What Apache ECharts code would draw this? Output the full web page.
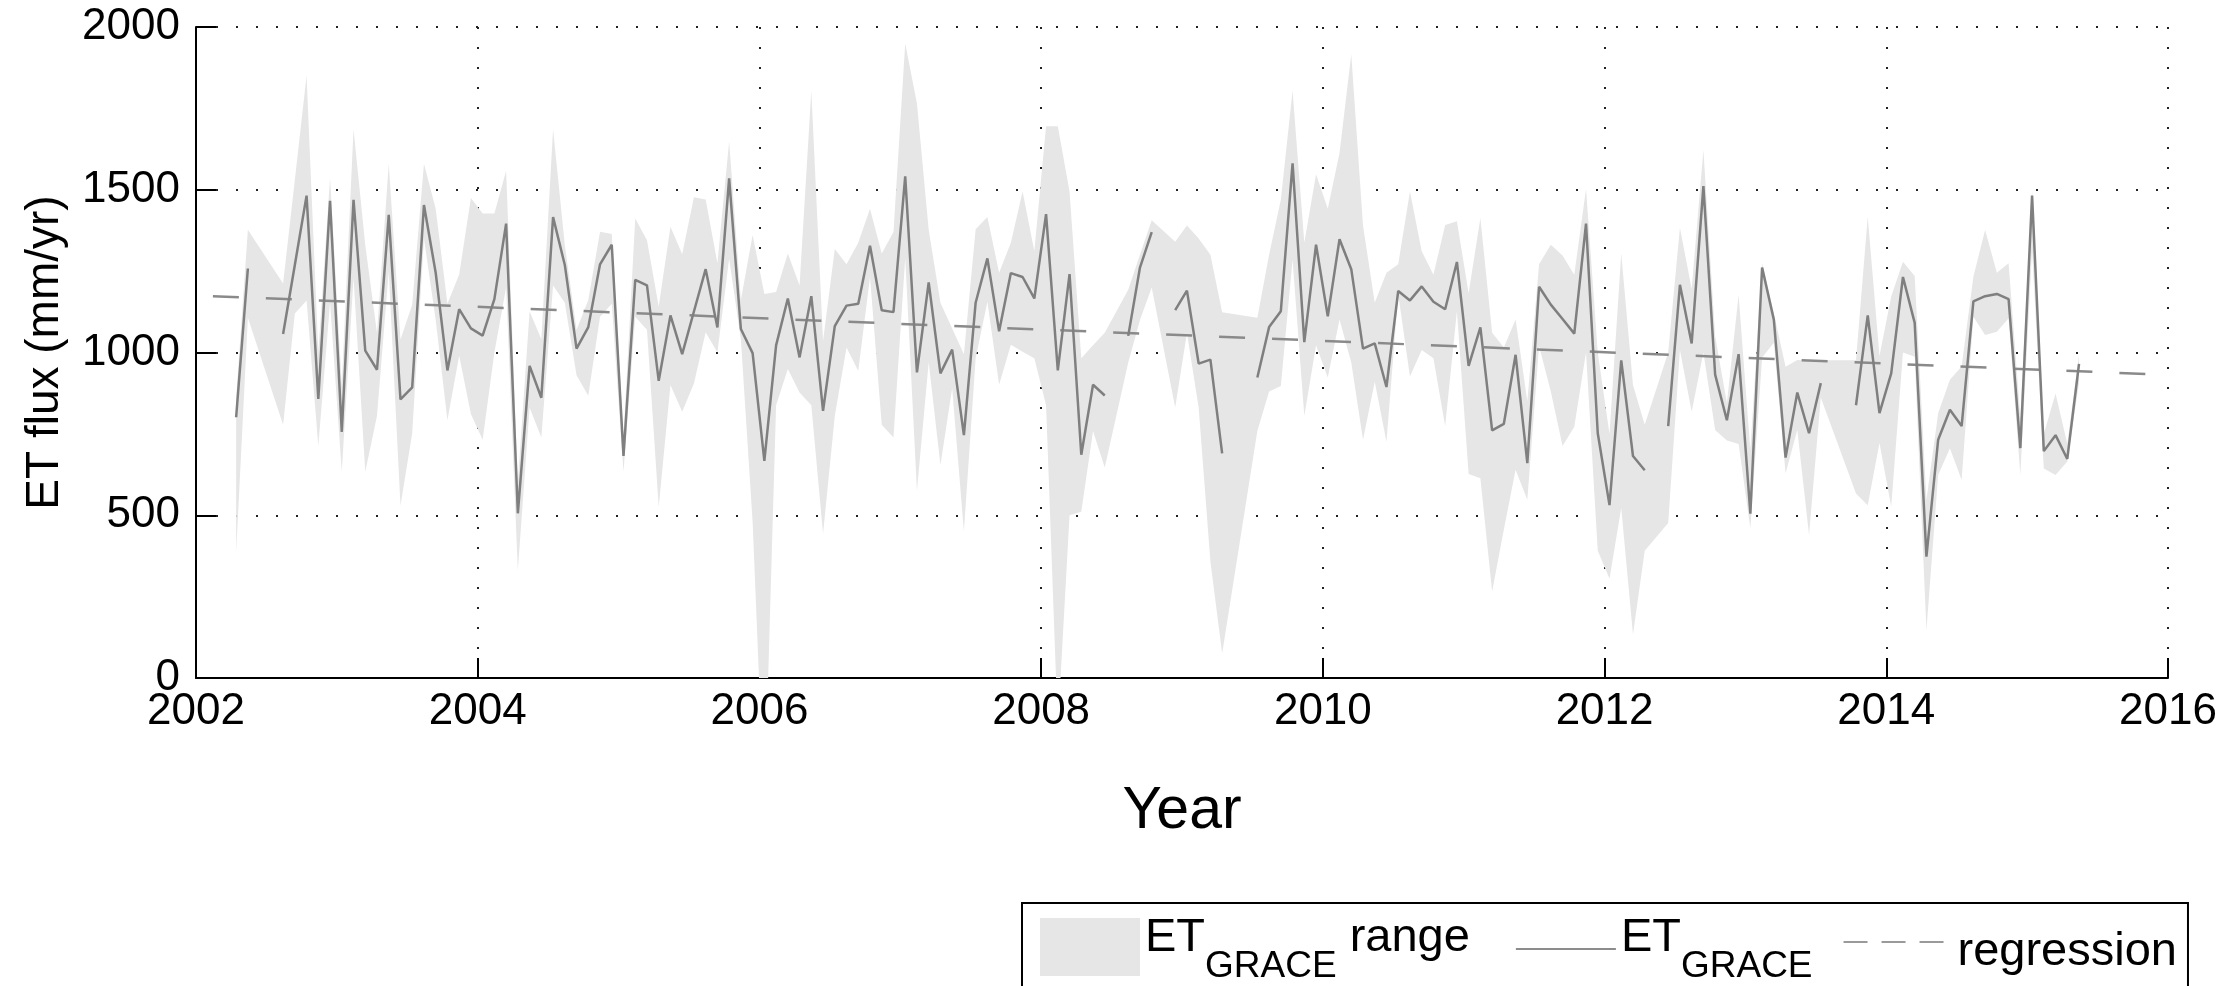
<!DOCTYPE html>
<html><head><meta charset="utf-8">
<script src="https://cdn.jsdelivr.net/npm/echarts@6/dist/echarts.min.js"></script>
<style>html,body{margin:0;padding:0;background:#fff}#c{width:2238px;height:986px}</style>
</head><body><div id="c"></div>
<script>
// Monthly series, starting April 2002 (null = missing month)
const startYear = 2002;
const startMonth = 4;
const etValues = [
  801, 1258, null, null, 1057, 1269, 1482, 857, 1466,
  756, 1469, 1006, 947, 1423, 856, 893, 1453, 1245, 945, 1133, 1074,
  1052, 1164, 1396, 506, 959, 861, 1416, 1269, 1012, 1078, 1271, 1331,
  682, 1223, 1206, 913, 1114, 995, 1126, 1256, 1077, 1535, 1072, 998,
  667, 1022, 1166, 985, 1173, 821, 1081, 1144, 1150, 1328, 1130, 1124,
  1541, 939, 1215, 936, 1009, 746, 1153, 1289, 1065, 1244, 1232, 1166,
  1425, 945, 1241, 686, 901, 868, null, 1051, 1261, 1370, null, 1130,
  1190, 966, 978, 690, null, null, 923, 1078, 1127, 1581, 1032, 1331,
  1111, 1348, 1256, 1012, 1028, 894, 1189, 1160, 1203, 1156, 1133, 1278,
  959, 1077, 761, 781, 993, 660, 1202, 1147, 1103, 1058, 1396, 752,
  531, 976, 682, 638, null, 774, 1208, 1028, 1511, 932, 792, 995,
  505, 1261, 1101, 677, 877, 752, 906, null, null, 838, 1114, 814,
  936, 1232, 1091, 373, 732, 824, 774, 1157, 1173, 1180, 1164, 706,
  1482, 697, 746, 673, 965
];
const etLow = [
  384, 1107, null, null, 778, 1120, 1160, 713, 1153,
  634, 1230, 634, 806, 1250, 529, 752, 1350, 1100, 792, 990, 811,
  732, 1000, 1200, 331, 831, 739, 1206, 1153, 930, 867, 1110, 1150,
  634, 1110, 1070, 525, 900, 818, 905, 1062, 1000, 1288, 1040, 480,
  -400, 838, 949, 877, 838, 443, 805, 1015, 943, 1232, 778, 739,
  1290, 575, 970, 654, 890, 450, 982, 1156, 901, 1024, 1002, 982,
  838, -150, 500, 511, 759, 647, null, 969, 1100, 1200, null, 831,
  1060, 830, 358, 75, null, null, 759, 880, 897, 1285, 805, 1022,
  923, 1101, 969, 732, 910, 726, 1179, 926, 1008, 982, 774, 1127,
  627, 614, 266, 456, 640, 548, 1020, 880, 713, 772, 1000, 391,
  305, 522, 134, 391, null, 476, 1008, 818, 1000, 762, 730, 719,
  460, 985, 1030, 629, 762, 439, 862, null, null, 567, 531, 722,
  526, 1000, 987, 147, 624, 706, 608, 1110, 1054, 1064, 1105, 624,
  1315, 644, 624, 665, 906
];
const etHigh = [
  860, 1377, null, null, 1212, 1530, 1850, 1000, 1535,
  900, 1686, 1330, 1060, 1580, 1040, 1147, 1580, 1442, 1150, 1240, 1475,
  1427, 1427, 1558, 600, 1127, 1041, 1686, 1330, 1069, 1161, 1371, 1364,
  741, 1412, 1345, 1141, 1386, 1302, 1477, 1470, 1274, 1648, 1161, 1361,
  1180, 1186, 1304, 1206, 1804, 1035, 1318, 1271, 1337, 1442, 1304, 1370,
  1949, 1765, 1377, 1153, 1074, 995, 1379, 1416, 1245, 1337, 1495, 1311,
  1695, 1695, 1495, 982, 1022, 1061, null, 1193, 1300, 1406, null, 1340,
  1390, 1350, 1300, 1124, null, null, 1107, 1300, 1469, 1804, 1337, 1548,
  1442, 1613, 1916, 1390, 1153, 1245, 1271, 1495, 1311, 1239, 1392, 1403,
  1182, 1413, 1061, 1015, 1101, 850, 1271, 1331, 1298, 1239, 1502, 1000,
  750, 1304, 900, 778, null, 1000, 1383, 1195, 1622, 1050, 845, 1177,
  700, 1274, 1120, 956, 977, 975, 976, null, null, 976, 1417, 989,
  1172, 1279, 1235, 547, 813, 916, 957, 1233, 1376, 1245, 1274, 800,
  1499, 750, 874, 720, 992
];
const regressionYears = [2002.12, 2015.9];
const regressionValues = [1173, 933];
const xAxisRange = [2002, 2016];
const yAxisRange = [0, 2000];

// decimal year of each month (mid-month)
const monthX = etValues.map((_, i) => {
  const t = (startMonth - 1) + i;
  return startYear + Math.floor(t / 12) + ((t % 12) + 0.42) / 12;
});
const lineData = monthX.map((x, i) => [x, etValues[i] == null ? null : etValues[i]]);
const bandPts = monthX.map((x, i) => [x, etLow[i], etHigh[i]]).filter(p => p[1] != null && p[2] != null);
const regData = regressionYears.map((x, i) => [x, regressionValues[i]]);

const FONT = 'Liberation Sans, Arial, Helvetica, sans-serif';
const chart = echarts.init(document.getElementById('c'), null, {renderer: 'canvas'});
const legendFmt = name => {
  if (name === 'ET_GRACE range') return '{a|ET}{s|GRACE}{b| range}';
  if (name === 'ET_GRACE') return '{a|ET}{s|GRACE}';
  return '{r|' + name + '}';
};
// invisible corner points fix the icon box to 100 x 70
const BOX = 'M0,0L0,0M100,70L100,70';
chart.setOption({
  animation: false,
  backgroundColor: '#fff',
  grid: {left: 196, right: 70, top: 27, bottom: 308, containLabel: false},
  xAxis: {
    type: 'value', min: xAxisRange[0], max: xAxisRange[1], interval: 2,
    name: 'Year', nameLocation: 'middle', nameGap: 104,
    nameTextStyle: {fontSize: 59, fontFamily: FONT, color: '#000'},
    axisLine: {show: true, onZero: false, lineStyle: {color: '#000', width: 2}},
    axisTick: {show: true, inside: true, length: 20, lineStyle: {color: '#000', width: 2}},
    axisLabel: {fontSize: 44, fontFamily: FONT, color: '#000', margin: 12, formatter: v => String(v)},
    splitLine: {show: true, lineStyle: {color: '#222', width: 2, type: [2, 18]}}
  },
  yAxis: {
    type: 'value', min: yAxisRange[0], max: yAxisRange[1], interval: 500,
    name: 'ET flux (mm/yr)', nameLocation: 'middle', nameGap: 128,
    nameTextStyle: {fontSize: 46, fontFamily: FONT, color: '#000'},
    axisLine: {show: true, onZero: false, lineStyle: {color: '#000', width: 2}},
    axisTick: {show: true, inside: true, length: 20, lineStyle: {color: '#000', width: 2}},
    axisLabel: {fontSize: 44, fontFamily: FONT, color: '#000', margin: 16, formatter: v => String(v)},
    splitLine: {show: true, lineStyle: {color: '#222', width: 2, type: [2, 18]}}
  },
  legend: {
    show: true, orient: 'horizontal', left: 1022, top: 903,
    padding: [3, 11, 24, 18], borderColor: '#000', borderWidth: 2,
    itemWidth: 100, itemHeight: 70, itemGap: 31, selectedMode: false,
    textStyle: {fontSize: 47, fontFamily: FONT, color: '#000',
      rich: {
        a: {fontSize: 47, fontFamily: FONT, color: '#000', lineHeight: 52, verticalAlign: 'top'},
        b: {fontSize: 47, fontFamily: FONT, color: '#000', lineHeight: 52, verticalAlign: 'top', padding: [0, 15, 0, 0]},
        s: {fontSize: 37, fontFamily: FONT, color: '#000', lineHeight: 37, padding: [33, 0, 0, 0], verticalAlign: 'top'},
        r: {fontSize: 47, fontFamily: FONT, color: '#000', lineHeight: 52, verticalAlign: 'top', padding: [14, 0, 0, 9]}
      }
    },
    formatter: legendFmt,
    data: [
      {name: 'ET_GRACE range', icon: 'path://' + BOX + 'M0,12h100v58h-100z', itemStyle: {color: '#e6e6e6'}},
      {name: 'ET_GRACE', icon: 'path://' + BOX + 'M0,42h100v2h-100z', itemStyle: {color: '#8c8c8c'}},
      {name: 'regression', icon: 'path://' + BOX + 'M0,35h24v2h-24zM38,35h24v2h-24zM76,35h24v2h-24z', itemStyle: {color: '#9a9a9a'}}
    ]
  },
  series: [
    {
      name: 'ET_GRACE range', type: 'custom', data: bandPts, clip: true, silent: true, z: 1,
      itemStyle: {color: '#e6e6e6'},
      encode: {x: 0, y: [1, 2]},
      renderItem: (params, api) => {
        if (params.dataIndex !== 0) return null;
        const upper = bandPts.map(p => api.coord([p[0], p[2]]));
        const lower = bandPts.map(p => api.coord([p[0], p[1]])).reverse();
        return {type: 'polygon', shape: {points: upper.concat(lower)}, style: {fill: '#e6e6e6', stroke: null}, silent: true};
      }
    },
    {
      name: 'ET_GRACE', type: 'line', data: lineData, connectNulls: false,
      symbol: 'none', color: '#7f7f7f', lineStyle: {color: '#7f7f7f', width: 2.5}, z: 3
    },
    {
      name: 'regression', type: 'line', data: regData, symbol: 'none', color: '#8a8a8a',
      lineStyle: {color: '#8a8a8a', width: 2.5, type: [26, 27]}, z: 2
    }
  ]
});
</script></body></html>
